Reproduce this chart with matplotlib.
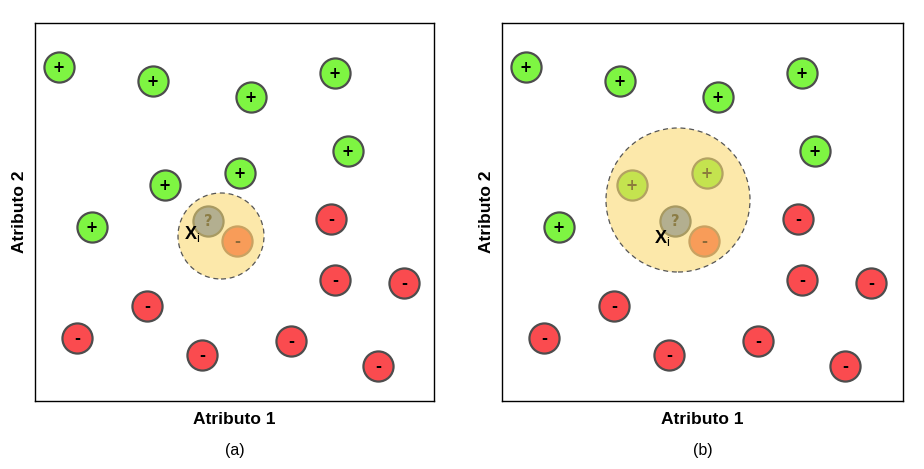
import matplotlib.pyplot as plt
from matplotlib.patches import Circle

plt.rcParams['font.family'] = ['Liberation Sans', 'DejaVu Sans']
plt.rcParams['mathtext.fontset'] = 'custom'
plt.rcParams['mathtext.rm'] = 'Liberation Sans'
plt.rcParams['mathtext.bf'] = 'Liberation Sans:bold'

# point positions (same layout in both panels)
plus_x = [24, 118, 216, 300, 313, 130, 205, 57]
plus_y = [334, 320, 304, 328, 250, 216, 228, 174]
minus_x = [296, 300, 369, 112, 42, 167, 256, 343]
minus_y = [182, 121, 118, 95, 63, 46, 60, 35]
query = (173, 180)
neighbour_minus = (202, 160)

# neighbourhoods
hood_a = (186, 165, 43)
hood_b = (176, 201, 72)
hl_plus_b = [5, 6]   # pluses inside the big neighbourhood

green = '#7ef542'
red = '#fa4b4f'
edge = '#4d4d4d'
sign_font = 'DejaVu Sans'

fig = plt.figure(figsize=(9.24, 4.69), dpi=100)
ax_a = fig.add_axes([35 / 924, 68 / 469, 399 / 924, 378 / 469])
ax_b = fig.add_axes([502 / 924, 68 / 469, 401 / 924, 378 / 469])

S = 470


def sign(ax, x, y, s, color='black', z=3):
    ax.text(x, y, s, ha='center', va='center', fontsize=10.5, fontweight='bold',
            family=sign_font, color=color, zorder=z)


def draw_panel(ax, width, hood, hl_plus, label, xi_pos):
    ax.set_xlim(0, width)
    ax.set_ylim(0, 378)
    ax.set_xticks([])
    ax.set_yticks([])
    for sp in ax.spines.values():
        sp.set_linewidth(1)
    px = [x for i, x in enumerate(plus_x) if i not in hl_plus]
    py = [y for i, y in enumerate(plus_y) if i not in hl_plus]
    ax.scatter(px, py, s=S, c=green, edgecolors=edge, linewidths=1.6, zorder=2)
    ax.scatter(minus_x, minus_y, s=S, c=red, edgecolors=edge, linewidths=1.6, zorder=2)
    for x, y in zip(px, py):
        sign(ax, x, y, '+')
    for x, y in zip(minus_x, minus_y):
        sign(ax, x, y, '-')

    # neighbourhood
    ax.add_patch(Circle(hood[:2], hood[2], facecolor='#fce8aa', edgecolor='#555555',
                        linestyle=(0, (4, 3)), linewidth=0.9, zorder=4))
    for i in hl_plus:
        ax.scatter(plus_x[i], plus_y[i], s=S, c='#c4e34f', edgecolors='#b3a262',
                   linewidths=1.6, zorder=5)
        sign(ax, plus_x[i], plus_y[i], '+', '#8c7d3c', 6)
    ax.scatter(*query, s=S, c='#b3af90', edgecolors='#a89a62', linewidths=1.6, zorder=5)
    sign(ax, *query, '?', '#8c7d45', 6)
    ax.scatter(*neighbour_minus, s=S, c='#f89c59', edgecolors='#c9a262', linewidths=1.6, zorder=5)
    sign(ax, *neighbour_minus, '-', '#8c6a3a', 6)
    ax.text(*xi_pos, r'$\mathbf{X}_{\mathrm{i}}$', ha='center', va='center', fontsize=13, zorder=7)

    ax.set_xlabel('Atributo 1', fontsize=12.5, fontweight='bold', labelpad=8)
    ax.set_ylabel('Atributo 2', fontsize=12.5, fontweight='bold', labelpad=6)
    ax.text(0.5, -0.13, label, transform=ax.transAxes, ha='center', va='center', fontsize=11.5)


draw_panel(ax_a, 399, hood_a, [], '(a)', (157, 167))
draw_panel(ax_b, 401, hood_b, hl_plus_b, '(b)', (160, 163))

fig.savefig('out.png', dpi=100)
